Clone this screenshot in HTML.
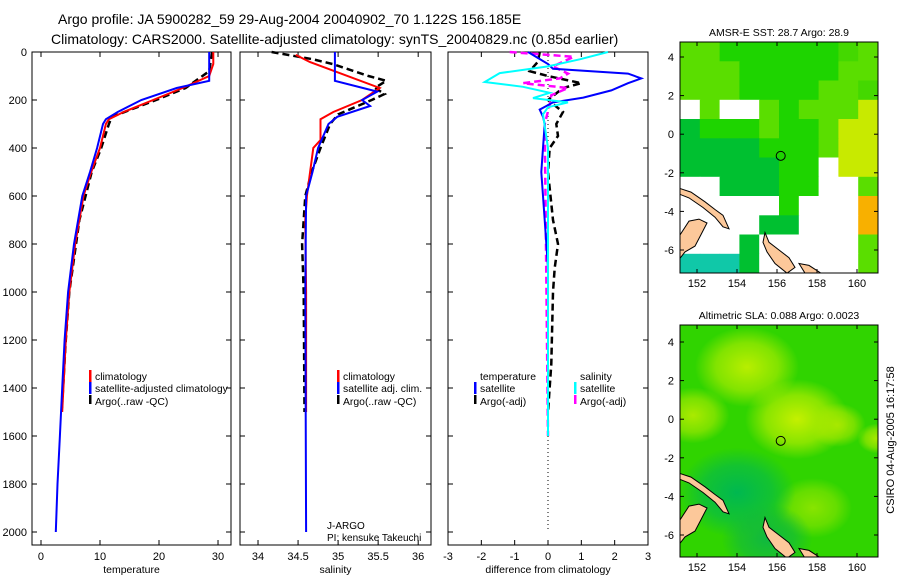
<!DOCTYPE html>
<html><head><meta charset="utf-8">
<style>
body{margin:0;background:#fff;}
svg{display:block;font-family:"Liberation Sans",sans-serif;}
text{fill:#000;}
</style></head>
<body>
<svg id="fig" width="900" height="580" viewBox="0 0 900 580">
<text x="58" y="24" font-size="14">Argo profile: JA 5900282_59 29-Aug-2004 20040902_70 1.122S 156.185E</text>
<text x="51" y="44" font-size="14">Climatology: CARS2000. Satellite-adjusted climatology: synTS_20040829.nc (0.85d earlier)</text>
<g id="plots"></g>
<g id="maps"></g>
<text transform="translate(894,440) rotate(-90)" text-anchor="middle" font-size="11">CSIRO 04-Aug-2005 16:17:58</text>
</svg>
<script>
// ---- data ----
const depthTicks=[0,200,400,600,800,1000,1200,1400,1600,1800,2000];
const tempTicks=[0,10,20,30];
const salTicks=[34,34.5,35,35.5,36];
const salTickLabels=["34","34.5","35","35.5","36"];
const diffTicks=[-3,-2,-1,0,1,2,3];

const tClimDepth=[0,50,100,150,200,250,280,300,400,500,600,800,1000,1200,1400,1500];
const tClimVal=[29.2,29.2,28.5,24,19,14,11.5,11,10,8.5,7.2,5.8,4.8,4.2,3.8,3.6];
const tSatDepth=[0,120,150,200,250,280,300,400,500,600,800,1000,1200,1400,1600,1800,2000];
const tSatVal=[28.5,28.5,23,17,13,11,10.5,9.5,8.3,7,5.6,4.6,4,3.6,3.2,2.8,2.5];
const tArgoDepth=[0,80,150,200,270,300,400,500,700,1000,1200,1500];
const tArgoVal=[29.0,28.5,24.5,19.5,12,11.5,10.2,8.6,6.5,4.8,4.2,3.5];

const sClimDepth=[12,42,150,200,250,280,367,400,500,600,700,1000,1500];
const sClimVal=[34.47,34.65,35.52,35.3,34.94,34.78,34.78,34.69,34.65,34.61,34.59,34.6,34.6];
const sSatDepth=[0,120,165,200,225,270,300,400,500,600,1000,2000];
const sSatVal=[34.96,34.96,35.49,35.3,35.4,34.99,34.88,34.75,34.68,34.6,34.59,34.6];
const sArgoDepth=[0,30,50,100,120,150,175,200,260,300,400,500,600,800,1000,1500];
const sArgoVal=[34.17,34.68,34.93,35.38,35.6,35.46,35.58,35.42,35.0,34.9,34.78,34.67,34.59,34.55,34.57,34.58];

const dTSatDepth=[0,50,70,90,110,130,160,190,210,240,270,300,500,700,900,1600];
const dTSatVal=[-0.6,0,0.15,2.4,2.8,2.4,1.9,1.06,0.15,-0.25,-0.15,-0.1,-0.2,-0.1,0,0];
const dSSatDepth=[0,30,60,88,125,145,170,192,210,230,260,400,1600];
const dSSatVal=[1.8,0.97,0,-1.45,-1.9,-0.75,0.05,-0.45,0.6,0,-0.15,0,0];
const dSArgoDepth=[0,20,60,90,110,130,150,180,220,300,1600];
const dSArgoVal=[-1.15,0.77,0.15,0.6,0.35,-0.75,0.6,0.1,0.05,-0.1,0];
const dTArgoDepth=[0,40,80,100,130,150,200,250,300,350,400,500,700,800,900,1000,1300,1500];
const dTArgoVal=[-0.25,-0.3,-0.55,0,1,0.45,0,0.45,0.25,0.3,0.05,0,0.15,0.3,0.2,0.15,0.1,0];

// ---- helpers ----
const NS="http://www.w3.org/2000/svg";
function mk(tag,attrs,parent){const e=document.createElementNS(NS,tag);for(const k in attrs)e.setAttribute(k,attrs[k]);parent.appendChild(e);return e;}
const Y0=52, PXD=0.24, YB=545;
function yD(d){return Y0+d*PXD;}
const plots=document.getElementById('plots');
const panels=[
 {name:'temperature',x0:32,x1:231,v0:-1.525,v1:32.2,ticks:tempTicks,labels:tempTicks.map(String),title:'temperature'},
 {name:'salinity',x0:240,x1:431,v0:33.775,v1:36.16,ticks:salTicks,labels:salTickLabels,title:'salinity'},
 {name:'difference',x0:448,x1:648,v0:-3,v1:3,ticks:diffTicks,labels:diffTicks.map(String),title:'difference from climatology'}
];
panels.forEach((p,i)=>{
 p.sx=v=>p.x0+(v-p.v0)/(p.v1-p.v0)*(p.x1-p.x0);
 const g=mk('g',{},plots);
 
 
 const r=mk('rect',{x:p.x0,y:Y0,width:p.x1-p.x0,height:YB-Y0,fill:'none',stroke:'#000','stroke-width':1},g);
 
 
 depthTicks.forEach(d=>{
  mk('line',{x1:p.x0,x2:p.x0+5,y1:yD(d),y2:yD(d),stroke:'#000'},g);
  mk('line',{x1:p.x1-5,x2:p.x1,y1:yD(d),y2:yD(d),stroke:'#000'},g);
  if(i===0){const t=mk('text',{x:p.x0-5,y:yD(d)+4,'font-size':11,'text-anchor':'end'},g);t.textContent=d;
   
   }
 });
 p.ticks.forEach((v,j)=>{
  const x=p.sx(v);
  mk('line',{x1:x,x2:x,y1:YB-5,y2:YB,stroke:'#000'},g);
  mk('line',{x1:x,x2:x,y1:Y0,y2:Y0+5,stroke:'#000'},g);
  const t=mk('text',{x:x,y:560,'font-size':11,'text-anchor':'middle'},g);t.textContent=p.labels[j];
  
  
 });
 const tt=mk('text',{x:(p.x0+p.x1)/2,y:573,'font-size':10.5,'text-anchor':'middle'},g);tt.textContent=p.title;
 
 
 p.g=g;
});
function series(p,ds,vs,color,dash,name){
 const pts=ds.map((d,k)=>p.sx(vs[k]).toFixed(1)+','+yD(d).toFixed(1)).join(' ');
 const l=mk('polyline',{points:pts,fill:'none',stroke:color,'stroke-width':dash?2.5:2,'stroke-dasharray':dash?'7,4':'none'},p.g);
 
 
}
const P=panels;
const zl=mk('line',{x1:P[2].sx(0),x2:P[2].sx(0),y1:yD(0),y2:yD(2000),stroke:'#000','stroke-dasharray':'1,3'},P[2].g);


series(P[0],tArgoDepth,tArgoVal,'#000',true,'temp-argo-line');
series(P[0],tClimDepth,tClimVal,'#f00',false,'temp-climatology-line');
series(P[0],tSatDepth,tSatVal,'#00f',false,'temp-satellite-line');
series(P[1],sArgoDepth,sArgoVal,'#000',true,'sal-argo-line');
series(P[1],sClimDepth,sClimVal,'#f00',false,'sal-climatology-line');
series(P[1],sSatDepth,sSatVal,'#00f',false,'sal-satellite-line');
series(P[2],dTArgoDepth,dTArgoVal,'#000',true,'diff-temp-argo-line');
series(P[2],dSArgoDepth,dSArgoVal,'#f0f',true,'diff-sal-argo-line');
series(P[2],dTSatDepth,dTSatVal,'#00f',false,'diff-temp-satellite-line');
series(P[2],dSSatDepth,dSSatVal,'#0ff',false,'diff-sal-satellite-line');
function legend(g,x,y,color,label,dash){
 if(color){const m=mk('rect',{x:x,y:y-6,width:2.5,height:dash?9:12,fill:color},g);
  
  }
 const t=mk('text',{x:x+6,y:y+4,'font-size':10.4},g);t.textContent=label;
 
 
}
legend(P[0].g,89,376,'#f00','climatology');
legend(P[0].g,89,388,'#00f','satellite-adjusted climatology');
legend(P[0].g,89,401,'#000','Argo(..raw -QC)',true);
legend(P[1].g,337,376,'#f00','climatology');
legend(P[1].g,337,388,'#00f','satellite adj. clim.');
legend(P[1].g,337,401,'#000','Argo(..raw -QC)',true);
legend(P[2].g,474,376,null,'temperature');
legend(P[2].g,474,388,'#00f','satellite');
legend(P[2].g,474,401,'#000','Argo(-adj)',true);
legend(P[2].g,574,376,null,'salinity');
legend(P[2].g,574,388,'#0ff','satellite');
legend(P[2].g,574,401,'#f0f','Argo(-adj)',true);
let t1=mk('text',{x:327,y:529,'font-size':10},P[1].g);t1.textContent='J-ARGO';


let t2=mk('text',{x:327,y:541,'font-size':10},P[1].g);t2.textContent='PI: kensuke Takeuchi';



// ---- maps ----
const sstGrid=[
"llggggggfl",
"lllgggggll",
"lllggggllf",
"wlwwlgllly",
"dggglgglyy",
"ddddggglyy",
"dddddggwyy",
"wwdddggwwl",
"wwwwwgwwwo",
"wwwwddwwwo",
"wwwdwwwwwl",
"cccdwwwwwl"];
const cmap={g:'#1ed400',l:'#5ade00',f:'#44d800',d:'#00c030',y:'#c8ea00',o:'#f8b000',w:'#ffffff',c:'#10c8a8'};
const maps=document.getElementById('maps');
const lonTicks=[152,154,156,158,160];
const latTicks=[4,2,0,-2,-4,-6];
function mapFrame(name,top,bot,lat4y,title){
 const g=mk('g',{},maps);
 
 
 const M={x0:680,x1:878,y0:top,y1:bot,g:g};
 const cp=mk('clipPath',{id:'clip-'+name},g);
 mk('rect',{x:680,y:top,width:198,height:bot-top},cp);
 M.inner=mk('g',{'clip-path':'url(#clip-'+name+')'},g);
 M.sx=lon=>680+(lon-151.15)*20;
 M.sy=lat=>lat4y+(4-lat)*19.3;
 const tt=mk('text',{x:779,y:top-6,'font-size':10.5,'text-anchor':'middle'},g);tt.textContent=title;
 
 
 return M;
}
function finishMap(M){
 const g=M.g, ig=M.inner;
 const lands=[
  [[151.1,-2.8],[151.7,-3.0],[152.4,-3.5],[152.9,-3.9],[153.3,-4.2],[153.6,-4.9],[153.3,-4.8],[152.9,-4.3],[152.3,-3.8],[151.6,-3.3],[151.1,-3.1]],
  [[151.1,-5.3],[151.6,-4.5],[152.1,-4.4],[152.5,-4.6],[152.2,-5.2],[151.9,-5.8],[151.4,-6.1],[151.1,-6.5]],
  [[155.4,-5.1],[155.6,-5.6],[156.1,-6.0],[156.6,-6.4],[156.9,-6.9],[156.5,-7.2],[155.9,-6.7],[155.5,-6.1],[155.3,-5.6]],
  [[157.1,-6.7],[157.6,-6.8],[158.2,-7.2],[157.4,-7.2]]
 ];
 lands.forEach(L=>{
  const pl=mk('polygon',{points:L.map(q=>M.sx(q[0]).toFixed(1)+','+M.sy(q[1]).toFixed(1)).join(' '),fill:'#fcc89a',stroke:'#000','stroke-width':1},ig);
  
  
 });
 const c=mk('circle',{cx:M.sx(156.185),cy:M.sy(-1.122),r:4.5,fill:'none',stroke:'#000','stroke-width':1},g);
 
 
 mk('rect',{x:M.x0,y:M.y0,width:M.x1-M.x0,height:M.y1-M.y0,fill:'none',stroke:'#000'},g);
 lonTicks.forEach(lon=>{const x=M.sx(lon);
  mk('line',{x1:x,x2:x,y1:M.y1-4,y2:M.y1,stroke:'#000'},g);
  mk('line',{x1:x,x2:x,y1:M.y0,y2:M.y0+4,stroke:'#000'},g);
  const t=mk('text',{x:x,y:M.y1+14,'font-size':11,'text-anchor':'middle'},g);t.textContent=lon;
  
  });
 latTicks.forEach(lat=>{const y=M.sy(lat);
  mk('line',{x1:M.x0,x2:M.x0+4,y1:y,y2:y,stroke:'#000'},g);
  mk('line',{x1:M.x1-4,x2:M.x1,y1:y,y2:y,stroke:'#000'},g);
  const t=mk('text',{x:M.x0-6,y:y+4,'font-size':11,'text-anchor':'end'},g);t.textContent=lat;
  
  });
}
const M1=mapFrame('sst-map',42,273,57,'AMSR-E SST: 28.7 Argo: 28.9');
const cw=(M1.x1-M1.x0)/10, ch=(M1.y1-M1.y0)/12;
sstGrid.forEach((row,r)=>{for(let c=0;c<10;c++){
 const cell=mk('rect',{x:(M1.x0+c*cw).toFixed(1),y:(M1.y0+r*ch).toFixed(1),width:(cw+0.5).toFixed(1),height:(ch+0.5).toFixed(1),fill:cmap[row[c]]},M1.inner);
 
 
}});
finishMap(M1);
const M2=mapFrame('sla-map',325,557,342,'Altimetric SLA: 0.088 Argo: 0.0023');
const defs=mk('defs',{},M2.g);
const blobs=[[154.5,2.7,40,'#b8ee00'],[151.8,0.2,28,'#aaea00'],[157,0,40,'#c4f000'],[159,-0.3,22,'#a8e800'],[157.8,-4.6,30,'#88e400'],[161,-1,15,'#a8e800'],[154,-3.8,45,'#00b850'],[155.5,-6.2,35,'#10b840']];
const bg=mk('rect',{x:680,y:325,width:198,height:232,fill:'#30d400'},M2.inner);


blobs.forEach((b,k)=>{
 const rg=mk('radialGradient',{id:'bl'+k},defs);
 mk('stop',{offset:'0','stop-color':b[3],'stop-opacity':1},rg);
 mk('stop',{offset:'0.6','stop-color':b[3],'stop-opacity':0.6},rg);
 mk('stop',{offset:'1','stop-color':b[3],'stop-opacity':0},rg);
 const e=mk('ellipse',{cx:M2.sx(b[0]),cy:M2.sy(b[1]),rx:b[2]*1.3,ry:b[2],fill:'url(#bl'+k+')'},M2.inner);
 
 
});
finishMap(M2);
</script>
</body></html>
